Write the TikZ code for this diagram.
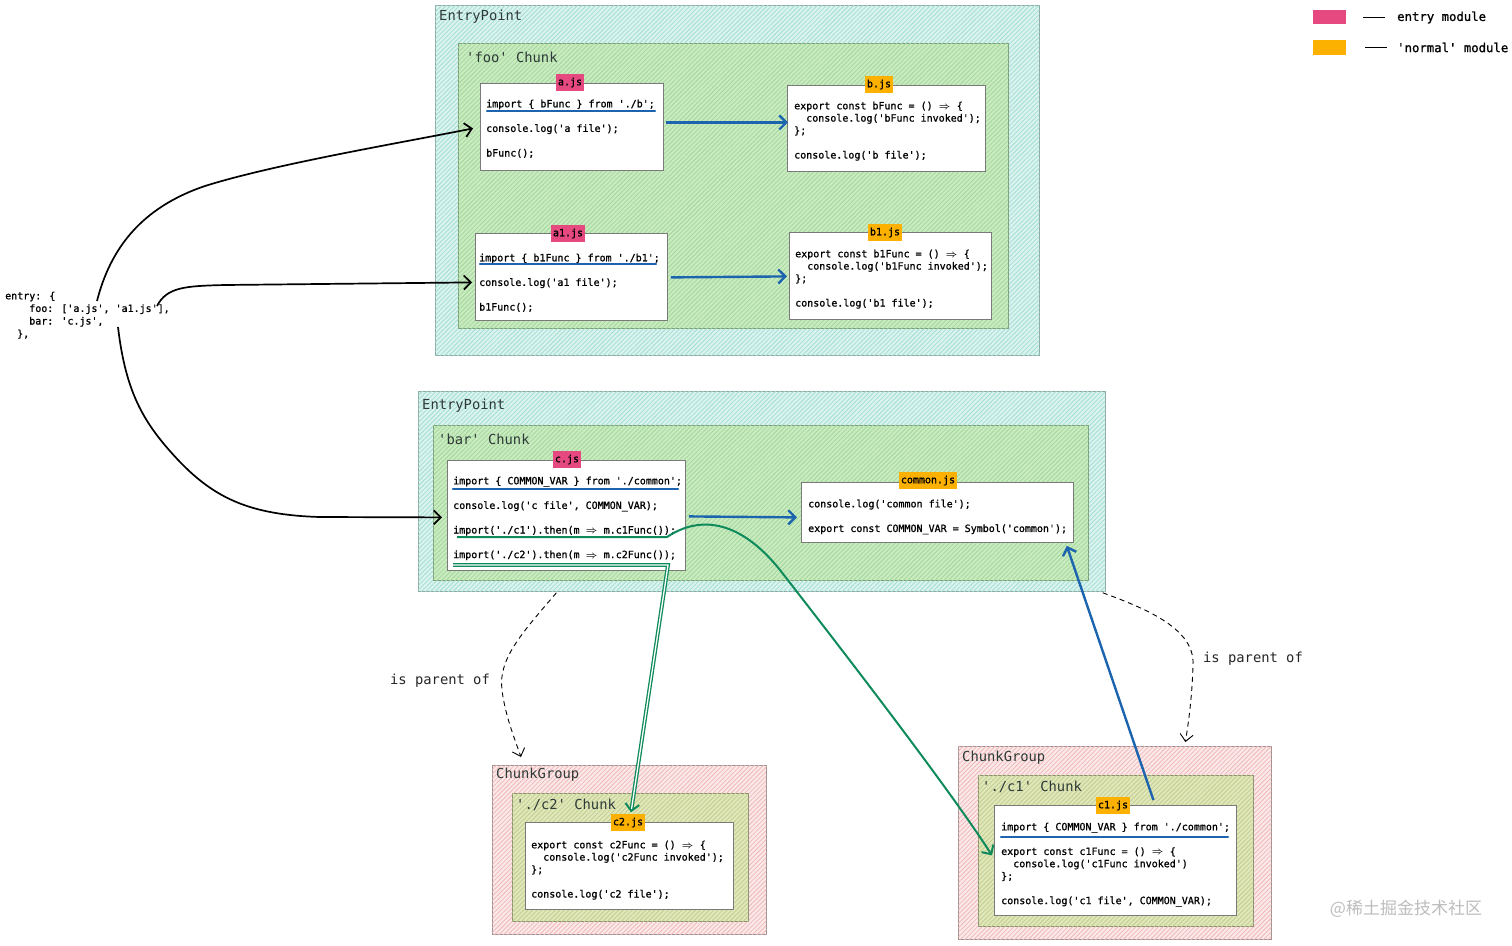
\documentclass[tikz,border=0pt]{standalone}
\usepackage{fontspec}
\setmonofont{DejaVu Sans Mono}
\newfontfamily\codefam[FakeBold=1.1]{DejaVu Sans Mono}
\newfontfamily\cjkfont{Noto Sans CJK SC}
\usetikzlibrary{arrows.meta,calc,patterns.meta}
\definecolor{epfill}{HTML}{DAF3EE}
\definecolor{ephatch}{HTML}{A2DED3}
\definecolor{epline}{HTML}{8FA8A3}
\definecolor{chfill}{HTML}{CAEBC1}
\definecolor{chhatch}{HTML}{A2D899}
\definecolor{chline}{HTML}{7D9E7D}
\definecolor{cgfill}{HTML}{FBE8E8}
\definecolor{cghatch}{HTML}{F0B8B8}
\definecolor{cgline}{HTML}{A09090}
\definecolor{ccfill}{HTML}{E0E7BB}
\definecolor{cchatch}{HTML}{C2CD8E}
\definecolor{ccline}{HTML}{8C8F70}
\definecolor{boxline}{HTML}{7A7A7A}
\definecolor{pinkc}{HTML}{E64980}
\definecolor{orangec}{HTML}{FCB000}
\definecolor{bluec}{HTML}{1C64AE}
\definecolor{greenc}{HTML}{0E8A5B}
\definecolor{titlec}{HTML}{2E3A38}
\definecolor{wmc}{HTML}{BDBDBD}
\newcommand\codefont{\codefam\fontsize{10}{12.3}\selectfont}
\newcommand\titlefont{\ttfamily\fontsize{13.8}{16}\selectfont}
\newcommand\legfont{\codefam\fontsize{12.3}{14}\selectfont}
\newcommand\jsarrow{\makebox[12.04pt][c]{$\boldsymbol{\Rightarrow}$}}
\newcommand\indtwo{\phantom{xx}}
\usepackage{amsmath}
\begin{document}
\begin{tikzpicture}[x=1pt,y=-1pt,
  hatched/.style n args={2}{fill=#1,postaction={pattern={Lines[angle=45,distance=3.2pt,line width=0.8pt]},pattern color=#2}},
  ep/.style={draw=epline,hatched={epfill}{ephatch},line width=0.8pt,anchor=north west,inner sep=0pt},
  chunk/.style={draw=chline,hatched={chfill}{chhatch},line width=0.8pt,anchor=north west,inner sep=0pt},
  cgroup/.style={draw=cgline,hatched={cgfill}{cghatch},line width=0.8pt,anchor=north west,inner sep=0pt},
  cchunk/.style={draw=ccline,hatched={ccfill}{cchatch},line width=0.8pt,anchor=north west,inner sep=0pt},
  codebox/.style={draw=boxline,fill=white,line width=0.8pt,anchor=north west,inner sep=0pt},
  codetext/.style={font=\codefont,align=left,anchor=north west,inner sep=0pt,text=black},
  title/.style={font=\titlefont,anchor=west,inner sep=0pt,text=titlec},
  tag/.style={fill=#1,font=\codefont,text=black,inner xsep=2pt,inner ysep=0pt,minimum height=17pt,text height=7.5pt,text depth=2pt},
  uline/.style={draw=bluec,line width=2.3pt,line cap=round},
  barb/.style={-{Straight Barb[length=7pt,width=14pt]}},
  blarrow/.style={draw=black,line width=1.7pt,barb},
  bluearrow/.style={draw=bluec,line width=2.4pt,barb},
  greenarrow/.style={draw=greenc,line width=2pt,barb},
  parent/.style={draw=black,line width=0.9pt,dash pattern=on 5pt off 4pt,-{Straight Barb[length=7pt,width=13pt]}},
  lbl/.style={font=\titlefont,inner sep=0pt,text=black!85}
]
\useasboundingbox (0,0) rectangle (1512,945);
\fill[white] (0,0) rectangle (1512,945);

% ---------- top EntryPoint ----------
\node[ep,minimum width=604pt,minimum height=350pt] (ep1) at (435,5) {};
\node[title] (ep1t) at (439,17) {EntryPoint};
\node[chunk,minimum width=550pt,minimum height=285pt] (foo) at (458,43) {};
\node[title] (foot) at (466,57) {'foo' Chunk};

\node[codebox,minimum width=183pt,minimum height=87pt] (a) at (480,83) {};
\node[codetext] (atx) at (486,99.5) {import \{ bFunc \} from './b';\\[12.3pt]console.log('a file');\\[12.3pt]bFunc();};
\node[tag=pinkc] (atag) at (570,82.5) {a.js};

\node[codebox,minimum width=198pt,minimum height=86pt] (b) at (787,85) {};
\node[codetext] (btx) at (794,101.5) {export const bFunc = () \jsarrow{} \{\\\indtwo console.log('bFunc invoked');\\\};\\[12.3pt]console.log('b file');};
\node[tag=orangec] (btag) at (879,84.5) {b.js};

\node[codebox,minimum width=192pt,minimum height=87pt] (a1) at (475,233) {};
\node[codetext] (a1tx) at (479,253.5) {import \{ b1Func \} from './b1';\\[12.3pt]console.log('a1 file');\\[12.3pt]b1Func();};
\node[tag=pinkc] (a1tag) at (568,233.5) {a1.js};

\node[codebox,minimum width=202pt,minimum height=87pt] (b1) at (789,232) {};
\node[codetext] (b1tx) at (795,249.5) {export const b1Func = () \jsarrow{} \{\\\indtwo console.log('b1Func invoked');\\\};\\[12.3pt]console.log('b1 file');};
\node[tag=orangec] (b1tag) at (885,232.5) {b1.js};

% ---------- middle EntryPoint ----------
\node[ep,minimum width=687pt,minimum height=200pt] (ep2) at (418,391) {};
\node[title] (ep2t) at (422,406) {EntryPoint};
\node[chunk,minimum width=655pt,minimum height=155pt] (bar) at (433,425) {};
\node[title] (bart) at (438,439) {'bar' Chunk};

\node[codebox,minimum width=238pt,minimum height=110pt] (c) at (447,460) {};
\node[codetext] (ctx) at (453,476.5) {import \{ COMMON\_VAR \} from './common';\\[12.3pt]console.log('c file', COMMON\_VAR);\\[12.3pt]import('./c1').then(m \jsarrow{} m.c1Func());\\[12.3pt]import('./c2').then(m \jsarrow{} m.c2Func());};
\node[tag=pinkc] (ctag) at (567,459.5) {c.js};

\node[codebox,minimum width=272pt,minimum height=60pt] (cm) at (801,482) {};
\node[codetext] (cmtx) at (808,499.5) {console.log('common file');\\[12.3pt]export const COMMON\_VAR = Symbol('common');};
\node[tag=orangec] (cmtag) at (928,480.5) {common.js};

% ---------- ChunkGroup c2 ----------
\node[cgroup,minimum width=274pt,minimum height=169pt] (cg2) at (492,765) {};
\node[title] (cg2t) at (496,775) {ChunkGroup};
\node[cchunk,minimum width=236pt,minimum height=128pt] (ch2) at (512,793) {};
\node[title] (ch2t) at (516,805) {'./c2' Chunk};
\node[codebox,minimum width=208pt,minimum height=87pt] (c2) at (525,822) {};
\node[codetext] (c2tx) at (531,840.5) {export const c2Func = () \jsarrow{} \{\\\indtwo console.log('c2Func invoked');\\\};\\[12.3pt]console.log('c2 file');};
\node[tag=orangec] (c2tag) at (628,822.5) {c2.js};

% ---------- ChunkGroup c1 ----------
\node[cgroup,minimum width=313pt,minimum height=193pt] (cg1) at (958,746) {};
\node[title] (cg1t) at (962,758) {ChunkGroup};
\node[cchunk,minimum width=275pt,minimum height=151pt] (ch1) at (978,775) {};
\node[title] (ch1t) at (982,787) {'./c1' Chunk};
\node[codebox,minimum width=242pt,minimum height=110pt] (c1) at (994,805) {};
\node[codetext] (c1tx) at (1001,822.5) {import \{ COMMON\_VAR \} from './common';\\[12.3pt]export const c1Func = () \jsarrow{} \{\\\indtwo console.log('c1Func invoked')\\\};\\[12.3pt]console.log('c1 file', COMMON\_VAR);};
\node[tag=orangec] (c1tag) at (1113,805.5) {c1.js};

% ---------- legend ----------
\node[fill=pinkc,minimum width=33pt,minimum height=14pt,inner sep=0pt] (lgp) at (1329.5,17) {};
\draw[black,line width=0.9pt] (1363,17) -- (1385,17);
\node[font=\legfont,anchor=west,inner sep=0pt] (lgpt) at (1397,17.5) {entry module};
\node[fill=orangec,minimum width=33pt,minimum height=15pt,inner sep=0pt] (lgo) at (1329.5,47.5) {};
\draw[black,line width=0.9pt] (1365,47) -- (1387,47);
\node[font=\legfont,anchor=west,inner sep=0pt] (lgot) at (1397,47.5) {'normal' module};

% ---------- entry config ----------
\node[codetext,font=\codefam\fontsize{10}{12.6}\selectfont] (entry) at (5,291.5) {entry: \{\\\indtwo\indtwo foo: ['a.js', 'a1.js'],\\\indtwo\indtwo bar: 'c.js',\\\indtwo \},};
\coordinate (s1) at (97,301);
\coordinate (s2) at (157,306);
\coordinate (s3) at (118,327);

% ---------- underlines ----------
\draw[uline] (487,111) -- (655,111);
\draw[uline] (480,264) -- (656,264);
\draw[uline] (453,489) -- (678,489);
\draw[uline] (1001,837) -- (1228,837);

% ---------- black connectors ----------
\draw[blarrow] (s1) .. controls (110,250) and (140,208) .. (205,186) .. controls (275,164) and (400,143) .. ($(a.west)+(-7,1.5)$);
\draw[blarrow] (s2) .. controls (167,287) and (185,286) .. (225,285) -- ($(a1.west)+(-3,5.5)$);
\draw[blarrow] (s3) .. controls (126,395) and (145,425) .. (180,462) .. controls (215,498) and (250,515) .. (320,517) -- ($(c.west)+(-5,2)$);

% ---------- blue connectors ----------
\draw[bluearrow] ($(a.east)+(2,-4.5)$) -- ($(b.west)+(1,-6)$);
\draw[bluearrow] ($(a1.east)+(3,0.5)$) -- ($(b1.west)+(-2,0.5)$);
\draw[bluearrow] ($(c.east)+(3,1)$) -- ($(cm.west)+(-4,5)$);
\draw[bluearrow] ($(c1.north)+(38,-5)$) -- ($(cm.south east)+(-7,3)$);

% ---------- green connectors ----------
\coordinate (g1) at (457,537);
\coordinate (g2) at (453,565);
\draw[greenarrow] (g1) -- (667,537) .. controls (700,515) and (740,520) .. (780,570) .. controls (850,660) and (950,790) .. ($(c1.west)+(-2,-5)$);
\draw[greenc,line width=1.3pt,double=white,double distance=1.3pt] (g2) -- (668,565) -- ($(c2tag.north)+(3.4,-4)$);
\draw[greenarrow] ($(c2tag.north)+(3.4,-4)$) -- ($(c2tag.north)+(3,-1.5)$);

% ---------- parent relations ----------
\draw[parent] ($(ep2.south)+(-205.5,1)$) .. controls (520,635) and (498,660) .. (502,690) .. controls (505,715) and (515,740) .. ($(cg2.north west)+(29,-8)$);
\node[lbl] (p1) at (440,681) {is parent of};
\draw[parent] ($(ep2.south east)+(-3,1)$) .. controls (1150,610) and (1195,630) .. (1193,665) .. controls (1192,700) and (1188,725) .. ($(cg1.north)+(70.5,-4)$);
\node[lbl] (p2) at (1253,659) {is parent of};

% ---------- watermark ----------
\node[font=\cjkfont\fontsize{17}{20}\selectfont,text=wmc,inner sep=0pt] (wm) at (1406,909) {@稀土掘金技术社区};
\end{tikzpicture}
\end{document}
